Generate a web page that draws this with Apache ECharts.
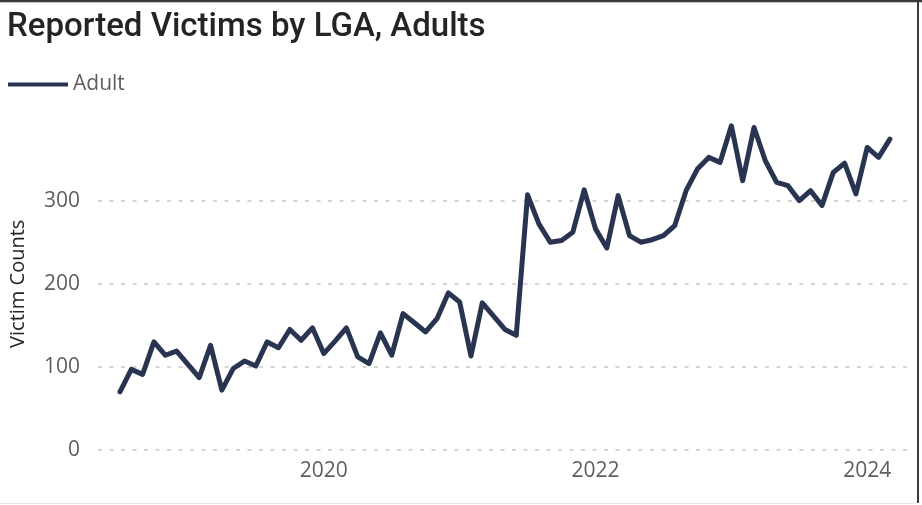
<!DOCTYPE html>
<html>
<head>
<meta charset="utf-8">
<script src="https://cdn.jsdelivr.net/npm/echarts@6/dist/echarts.min.js"></script>
<style>
  html, body { margin: 0; padding: 0; background: #fff; }
  #wrap { position: relative; width: 922px; height: 505px; overflow: hidden; }
  #chart { position: absolute; left: 0; top: 0; width: 922px; height: 505px; }
  .ln { position: absolute; pointer-events: none; }
</style>
</head>
<body>
<div id="wrap">
  <div id="chart"></div>
  <div class="ln" style="left:0;top:0;width:922px;height:2px;background:#3a3a3a;"></div>
  <div class="ln" style="left:0;top:2px;width:922px;height:1px;background:#c8c8c8;"></div>
  <div class="ln" style="left:917px;top:0;width:2px;height:503px;background:#3a3a3a;"></div>
  <div class="ln" style="left:0;top:503px;width:917px;height:1px;background:#e6e6e6;"></div>
</div>
<script>
const months = [
  '2018-07','2018-08','2018-09','2018-10','2018-11','2018-12',
  '2019-01','2019-02','2019-03','2019-04','2019-05','2019-06','2019-07','2019-08','2019-09','2019-10','2019-11','2019-12',
  '2020-01','2020-02','2020-03','2020-04','2020-05','2020-06','2020-07','2020-08','2020-09','2020-10','2020-11','2020-12',
  '2021-01','2021-02','2021-03','2021-04','2021-05','2021-06','2021-07','2021-08','2021-09','2021-10','2021-11','2021-12',
  '2022-01','2022-02','2022-03','2022-04','2022-05','2022-06','2022-07','2022-08','2022-09','2022-10','2022-11','2022-12',
  '2023-01','2023-02','2023-03','2023-04','2023-05','2023-06','2023-07','2023-08','2023-09','2023-10','2023-11','2023-12',
  '2024-01','2024-02','2024-03'
];
const adult = [
  70, 97, 91, 130, 114, 119,
  103, 87, 126, 72, 98, 107, 101, 130, 123, 145, 132, 147,
  116, 131, 147, 112, 104, 141, 114, 164, 153, 142, 158, 189,
  178, 113, 177, 161, 145, 138, 307, 272, 250, 252, 262, 313,
  266, 243, 306, 258, 250, 253, 258, 270, 312, 338, 352, 346,
  390, 324, 388, 348, 322, 318, 300, 312, 294, 334, 345, 308,
  364, 352, 374
];
const xTickMonths = ['2020-01', '2022-01', '2024-01'];
const xTickLabels = ['2020', '2022', '2024'];
const yTicks = [0, 100, 200, 300, 400];

const seriesData = adult.map((v, i) => [i, v]);
const tickIdx = xTickMonths.map(m => months.indexOf(m));

const chart = echarts.init(document.getElementById('chart'), null, { renderer: 'canvas' });
const labelFont = '"Open Sans", "Segoe UI", sans-serif';
chart.setOption({
  animation: false,
  title: {
    text: 'Reported Victims by LGA, Adults',
    left: 2, top: 6,
    textStyle: { fontFamily: 'Roboto, sans-serif', fontSize: 33, fontWeight: 500, color: '#252423' }
  },
  legend: {
    left: 8, top: 74, padding: 0,
    icon: 'rect', itemWidth: 60, itemHeight: 4, itemGap: 20,
    textStyle: { fontFamily: labelFont, fontSize: 21, color: '#605E5C' },
    data: ['Adult']
  },
  grid: { left: 98, right: 14, top: 117.5, bottom: 55, containLabel: false },
  xAxis: {
    type: 'value',
    min: -1.94, max: 69.6,
    axisLine: { show: false },
    axisTick: { show: false },
    splitLine: { show: false },
    axisLabel: {
      customValues: tickIdx,
      formatter: v => xTickLabels[tickIdx.indexOf(Math.round(v))] || '',
      fontFamily: labelFont, fontSize: 21, color: '#605E5C', margin: 11
    }
  },
  yAxis: {
    type: 'value',
    min: yTicks[0], max: yTicks[yTicks.length - 1], interval: 100,
    name: 'Victim Counts',
    nameLocation: 'middle', nameGap: 70, nameRotate: 90,
    nameTextStyle: { fontFamily: labelFont, fontSize: 20, color: '#252423' },
    axisLine: { show: false },
    axisTick: { show: false },
    axisLabel: {
      showMaxLabel: false,
      fontFamily: labelFont, fontSize: 21, color: '#605E5C', margin: 18
    },
    splitLine: {
      show: true, showMaxLine: false,
      lineStyle: { color: '#c8c8c8', width: 1.5, type: [4, 7.5] }
    }
  },
  series: [{
    name: 'Adult',
    type: 'line',
    data: seriesData,
    showSymbol: false,
    symbol: 'none',
    itemStyle: { color: '#283450' },
    lineStyle: { color: '#283450', width: 5, cap: 'round', join: 'round' }
  }]
});
</script>
</body>
</html>
